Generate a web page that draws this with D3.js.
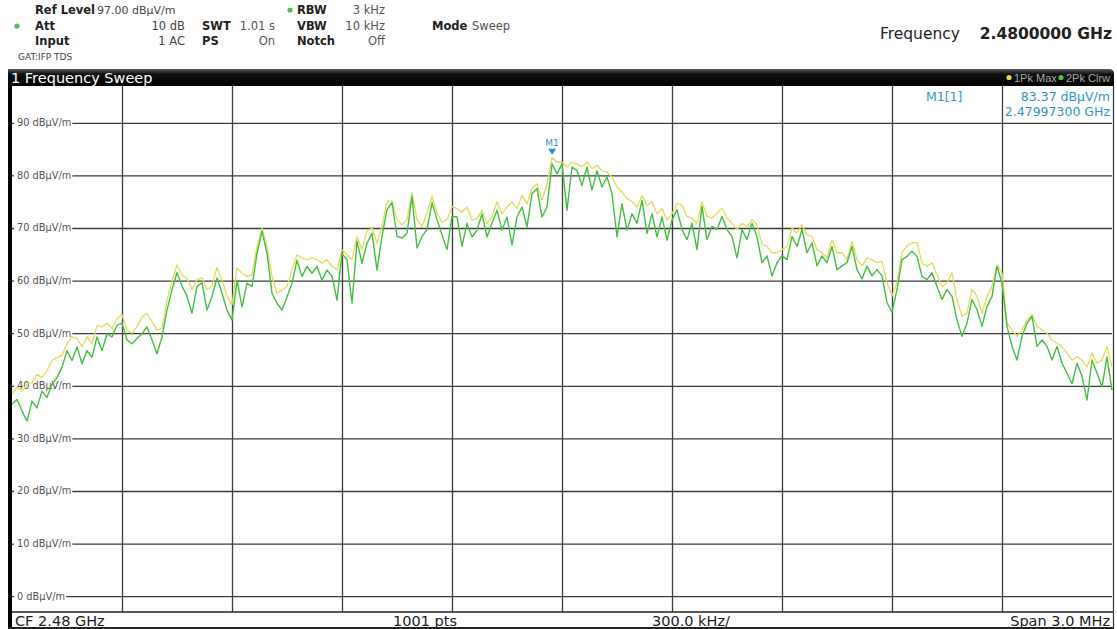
<!DOCTYPE html>
<html>
<head>
<meta charset="utf-8">
<script src="https://cdn.jsdelivr.net/npm/d3@7"></script>
<style>
  html, body { margin: 0; padding: 0; background: #fff; }
  svg { display: block; font-family: "DejaVu Sans", Verdana, sans-serif; }
</style>
</head>
<body>
<div id="chart"></div>
<script>
// spectrum analyser screen, 2.48 GHz, span 3 MHz
var startMHz = 2478.5, stopMHz = 2481.5;
var refLevel = 97, bottomLevel = -3;
var levelTicks = [0, 10, 20, 30, 40, 50, 60, 70, 80, 90];
var freqTicks = [2478.8, 2479.1, 2479.4, 2479.7, 2480.0, 2480.3, 2480.6, 2480.9, 2481.2];
var markerFreqGHz = 2.479973, markerLevel = 83.37;

// trace 1: Pk Max (yellow)
var trace1 = [
  38.4, 39.7, 39, 40.3, 40.6, 42.2, 41.6, 42.9, 44.8, 45.4, 45.8, 48, 49.3, 49, 47.4, 49.3, 48, 51.5, 51.2, 51.9, 50.9, 52.8, 53.5,
  50.6, 50, 51.2, 53.1, 53.8, 52.2, 50.6, 50.9, 56.3, 59.9, 63, 61, 60.5, 58.3, 60.2, 60.5, 58.3, 59, 62.5, 60.2, 57, 55.4,
  62.4, 61.4, 60.8, 61.1, 66.5, 70, 66.5, 60.8, 57.6, 58.2, 58.9, 62, 64.9, 64.3, 64, 64.3, 64, 63.3, 64, 62.7, 62, 65.9,
  64.9, 64, 68.4, 65.9, 69.4, 70, 67.1, 70.3, 75.1, 75.1, 71.6, 70.6, 71.6, 76.7, 71.6, 70.3, 72.9, 76, 72.9, 71, 71.6, 74.1,
  73.7, 73, 74, 71.5, 71.8, 73.4, 70.9, 72.1, 75, 72.7, 74, 75, 73.7, 76.2, 74.6, 77.5, 78.4, 75.3, 78.4, 83.37, 82.5, 82.5,
  81.6, 82.5, 82.2, 81.6, 82.5, 81.3, 81.9, 80.9, 80.6, 79.7, 77.8, 76.8, 75.6, 75, 74, 76.2, 74.3, 75, 72.7, 73.7, 71.5, 72.7,
  74.7, 74.4, 72.2, 71.9, 70.9, 75, 72.2, 71.9, 72.8, 73.8, 71.9, 70.9, 69.7, 70.9, 70.3, 71.6, 70.6, 66.9, 66.5, 65.3, 65.3, 65.9,
  66.5, 70, 69, 70.6, 68.7, 68.4, 65.9, 65.3, 64.3, 67.8, 65.3, 65.3, 64, 67.5, 64, 62.8, 64.3, 64, 63.4, 63.7, 59.6, 57.1,
  59.6, 65.3, 66.6, 67.2, 67.2, 63.4, 62.7, 63.4, 61.1, 58.9, 59.6, 61.5, 56.4, 53.2, 53.8, 58.3, 57, 53.8, 57, 58.9, 63, 61.5,
  51.9, 50.6, 49.4, 50.6, 52.5, 53.5, 51.3, 50.6, 50, 48.7, 48.1, 47.5, 46.2, 44.9, 45.5, 44.9, 43.6, 46.2, 44.3, 44.9, 47.5, 43.6
];

// trace 2: Pk Clear/Write (green)
var trace2 = [
  36.5, 37.4, 35.2, 33.3, 37.1, 35.8, 39, 37.8, 40.3, 41.6, 43.5, 46.7, 44.8, 47.4, 44.2, 46.7, 45.4, 49.3, 46.7, 49.9, 49.3, 51.5, 51.9,
  48.7, 48, 49, 49.9, 51.2, 48.7, 46.1, 49.3, 54.4, 58.3, 61.5, 59, 57, 53.8, 58.9, 59.6, 54.4, 57, 60.5, 57.6, 54.4, 52.5,
  60.1, 55, 59.5, 58.9, 65.2, 69.4, 65.2, 57.6, 55.7, 54.4, 56.9, 59.5, 63.9, 60.8, 62.7, 61.4, 62.7, 60.1, 62, 60.8, 56.3, 65.2,
  63.9, 55.7, 67.5, 63.3, 67.1, 69, 62, 68.4, 73.5, 74.8, 68.4, 68.1, 69, 76, 66.2, 68.4, 69.7, 74.8, 71.6, 68.7, 65.9, 72.2,
  72.1, 66.5, 70.9, 68.3, 69.6, 72.7, 68.3, 70.9, 73.4, 69.6, 72.1, 66.8, 72.1, 74, 70.2, 76.5, 77.5, 72.1, 74, 82.2, 80.3, 82.2,
  73.4, 81.6, 80.9, 78.1, 81.6, 77.2, 80.9, 77.8, 79.7, 76.5, 68.3, 74.6, 69.6, 72.7, 70.9, 75.3, 69, 72.7, 68.3, 72.1, 67.7, 71.5,
  73.5, 69.7, 67.8, 70.9, 65.9, 74.1, 67.8, 70.3, 69.7, 72.2, 69.7, 68.4, 64.3, 69.7, 67.8, 70.9, 68.4, 63.4, 64.7, 60.9, 63.4, 64.7,
  64, 68.4, 66.5, 69.7, 65.3, 67.2, 62.8, 64.7, 63.4, 66.5, 62.1, 62.8, 63.4, 66.5, 62.1, 60.3, 62.8, 60.9, 62.1, 60.9, 55.8, 54,
  58.3, 64, 64.6, 65.6, 64.6, 60.8, 60.2, 61.5, 58.9, 56.4, 58.3, 57, 52.5, 49.4, 51.9, 56.4, 54.5, 51.3, 55.1, 57, 62.7, 59.6,
  51.3, 47.5, 44.9, 49.4, 51.9, 53.2, 47.5, 48.7, 47.5, 44.9, 47.5, 44.3, 42.4, 40.4, 44.3, 41.8, 37.3, 44.9, 42.4, 39.8, 45.5, 39.2
];

var width = 1117, height = 629;
var plot = {left: 12, right: 1112, top: 86, bottom: 612};

var svg = d3.select("#chart").append("svg")
  .attr("width", width)
  .attr("height", height);

var x = d3.scaleLinear().domain([startMHz, stopMHz]).range([plot.left, plot.right]);
var y = d3.scaleLinear().domain([bottomLevel, refLevel]).range([plot.bottom, plot.top]);
var step = (stopMHz - startMHz) / (trace1.length - 1);
function freqAt(i){ return startMHz + i * step; }

// ---- header block ----
var head = svg.append("g").attr("font-size", 11.5).attr("fill", "#222");
function txt(g, s, px, py, opts){
  opts = opts || {};
  return g.append("text").attr("x", px).attr("y", py)
    .attr("text-anchor", opts.anchor || "start")
    .attr("font-weight", opts.bold ? "bold" : null)
    .attr("font-size", opts.size || null)
    .attr("fill", opts.fill || null)
    .text(s);
}
txt(head, "Ref Level", 35, 14, {bold: true});
txt(head, "97.00 dBµV/m", 97, 14, {size: 11, fill: "#444"});
txt(head, "Att", 35, 30, {bold: true});
txt(head, "10 dB", 185, 30, {anchor: "end", fill: "#444"});
txt(head, "Input", 35, 45, {bold: true});
txt(head, "1 AC", 185, 45, {anchor: "end", fill: "#444"});
txt(head, "GAT:IFP TDS", 18, 60, {size: 9, fill: "#444"});
txt(head, "SWT", 202, 30, {bold: true});
txt(head, "1.01 s", 275, 30, {anchor: "end", fill: "#555"});
txt(head, "PS", 202, 45, {bold: true});
txt(head, "On", 275, 45, {anchor: "end", fill: "#555"});
txt(head, "RBW", 297, 14, {bold: true});
txt(head, "3 kHz", 385, 14, {anchor: "end", fill: "#555"});
txt(head, "VBW", 297, 30, {bold: true});
txt(head, "10 kHz", 385, 30, {anchor: "end", fill: "#555"});
txt(head, "Notch", 297, 45, {bold: true});
txt(head, "Off", 385, 45, {anchor: "end", fill: "#555"});
txt(head, "Mode", 432, 30, {bold: true});
txt(head, "Sweep", 472, 30, {fill: "#555"});
head.append("circle").attr("cx", 17).attr("cy", 26).attr("r", 2.6).attr("fill", "#5cb85c");
head.append("circle").attr("cx", 290).attr("cy", 10).attr("r", 2.6).attr("fill", "#5cb85c");
txt(head, "Frequency", 960, 39, {anchor: "end", size: 15.5, fill: "#222"});
txt(head, "2.4800000 GHz", 1112, 39, {anchor: "end", size: 15.5, bold: true, fill: "#222"});

// ---- window title bar ----
var grad = svg.append("defs").append("linearGradient").attr("id", "bar").attr("x1", 0).attr("x2", 0).attr("y1", 0).attr("y2", 1);
grad.append("stop").attr("offset", "0%").attr("stop-color", "#5a5a5a");
grad.append("stop").attr("offset", "30%").attr("stop-color", "#111");
grad.append("stop").attr("offset", "100%").attr("stop-color", "#000");
svg.append("path")
  .attr("d", "M8,86 L8,69 L1109,69 Q1114,69 1114,74 L1114,86 Z")
  .attr("fill", "url(#bar)");
txt(svg, "1 Frequency Sweep", 11, 83, {size: 14.5, fill: "#fff"});
var leg = svg.append("g").attr("font-size", 11).attr("fill", "#a8a8a8").attr("font-family", "'Liberation Sans', Arial, sans-serif");
leg.append("circle").attr("cx", 1009).attr("cy", 77.5).attr("r", 2.6).attr("fill", "#e2d34a");
txt(leg, "1Pk Max", 1014, 82);
leg.append("circle").attr("cx", 1061).attr("cy", 77.5).attr("r", 2.6).attr("fill", "#4fc24f");
txt(leg, "2Pk Clrw", 1066, 82);

// ---- plot frame ----
svg.append("rect").attr("x", 8).attr("y", 86).attr("width", 4).attr("height", 543).attr("fill", "#000");
svg.append("rect").attr("x", plot.left).attr("y", plot.top)
  .attr("width", plot.right - plot.left).attr("height", plot.bottom - plot.top).attr("fill", "#fff");

// vertical grid via axis
svg.append("g")
  .attr("class", "vgrid")
  .attr("transform", "translate(0," + plot.bottom + ")")
  .call(d3.axisBottom(x).tickValues(freqTicks).tickSize(-(plot.bottom - plot.top)).tickFormat(""))
  .call(function(g){ g.select(".domain").remove(); })
  .selectAll("line").attr("stroke", "#3c3c3c").attr("stroke-width", 1.3);

// horizontal grid via axis
svg.append("g")
  .attr("class", "hgrid")
  .attr("transform", "translate(" + plot.left + ",0)")
  .call(d3.axisLeft(y).tickValues(levelTicks).tickSize(-(plot.right - plot.left)).tickFormat(""))
  .call(function(g){ g.select(".domain").remove(); })
  .selectAll("line").attr("stroke", "#3c3c3c").attr("stroke-width", 1.3);

// level labels sit on the grid lines with white behind
var lab = svg.append("g").attr("font-size", 9.8).attr("fill", "#555");
levelTicks.forEach(function(v){
  var t = lab.append("text").attr("x", 17).attr("y", y(v)).attr("dy", "0.35em").text(v + " dBµV/m");
  var bb = t.node().getBBox();
  lab.insert("rect", "text").attr("x", 14).attr("y", y(v) - 5).attr("width", bb.width + 4).attr("height", 10).attr("fill", "#fff");
});

// ---- traces ----
var line = d3.line()
  .x(function(d, i){ return x(freqAt(i)); })
  .y(function(d){ return y(d); });

svg.append("path").datum(trace1)
  .attr("d", line).attr("fill", "none")
  .attr("stroke", "#e4da5a").attr("stroke-width", 1.3).attr("stroke-linejoin", "round");
svg.append("path").datum(trace2)
  .attr("d", line).attr("fill", "none")
  .attr("stroke", "#43bf43").attr("stroke-width", 1.4).attr("stroke-linejoin", "round");

// ---- marker M1 ----
var mx = x(markerFreqGHz * 1000), my = y(markerLevel);
svg.append("path")
  .attr("d", "M" + (mx - 4) + "," + (my - 9) + " L" + (mx + 4) + "," + (my - 9) + " L" + mx + "," + (my - 3) + " Z")
  .attr("fill", "#2a8fd0");
txt(svg, "M1", mx, my - 12, {anchor: "middle", size: 9, fill: "#3a8fc8"});

var mk = svg.append("g").attr("font-size", 12.5).attr("fill", "#2f95cf");
txt(mk, "M1[1]", 926, 101);
txt(mk, d3.format(".2f")(markerLevel) + " dBµV/m", 1110, 101, {anchor: "end"});
txt(mk, d3.format(".8f")(markerFreqGHz) + " GHz", 1110, 116, {anchor: "end"});

// ---- bottom status line ----
svg.append("line").attr("x1", 12).attr("x2", 1114).attr("y1", plot.bottom).attr("y2", plot.bottom)
  .attr("stroke", "#222").attr("stroke-width", 1.5);
svg.append("line").attr("x1", 8).attr("x2", 1114).attr("y1", 628).attr("y2", 628)
  .attr("stroke", "#222").attr("stroke-width", 2);
svg.append("line").attr("x1", 1113.5).attr("x2", 1113.5).attr("y1", 86).attr("y2", 629)
  .attr("stroke", "#333").attr("stroke-width", 1.2);
var foot = svg.append("g").attr("font-size", 14.5).attr("fill", "#222");
txt(foot, "CF 2.48 GHz", 15, 625.5);
txt(foot, "1001 pts", 393, 625.5);
txt(foot, "300.0 kHz/", 652, 625.5);
txt(foot, "Span 3.0 MHz", 1110, 625.5, {anchor: "end"});
</script>
</body>
</html>
